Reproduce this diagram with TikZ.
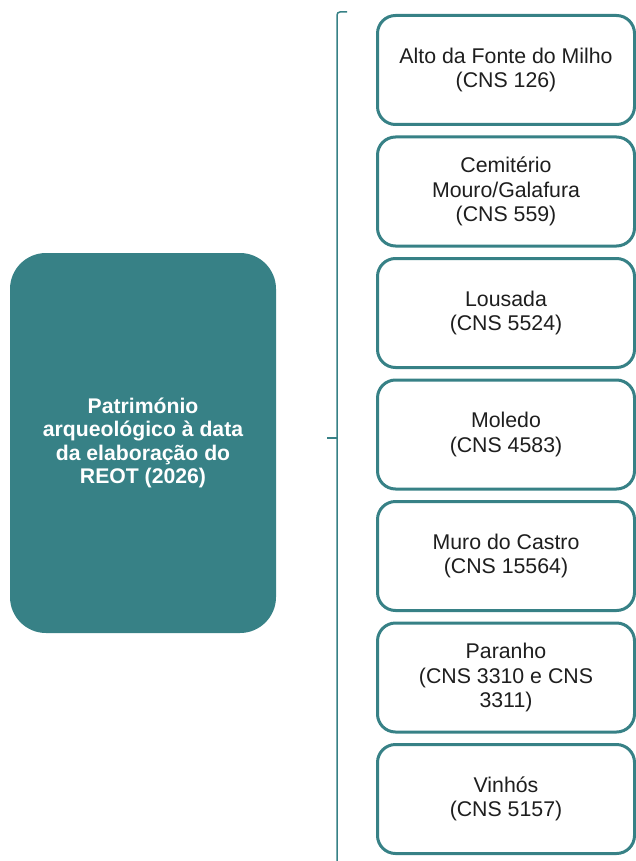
\documentclass[tikz,border=0pt]{standalone}
\usepackage{fontspec}
\setmainfont{Liberation Sans}
\definecolor{reotteal}{RGB}{55,129,134}
\definecolor{reottext}{RGB}{30,30,30}

\begin{document}
\begin{tikzpicture}[x=1pt, y=-1pt,
  sitebox/.style={draw=reotteal, line width=3pt, rounded corners=18pt, fill=white,
    minimum width=257pt, minimum height=109pt, align=center, text=reottext,
    font=\fontsize{21.3}{24.2}\selectfont},
  mainbox/.style={fill=reotteal, rounded corners=36pt, minimum width=266pt,
    minimum height=380pt, align=center, text=white,
    font=\bfseries\fontsize{21.2}{23.6}\selectfont},
  bracket/.style={draw=reotteal, line width=1.5pt, rounded corners=3pt}]
  \useasboundingbox (0,0) rectangle (635,861);

  \node[mainbox] (main) at (143,443) {Património\\arqueológico à data\\da elaboração do\\REOT (2026)};

  % bracket
  \coordinate (btop) at (347,12);
  \coordinate (bcorner) at (337,12);
  \coordinate (bbottom) at (337,875);
  \coordinate (bmid) at (337,438);
  \coordinate (btick) at (327,438);
  \draw[bracket] (btop) -- (bcorner) -- (bbottom);
  \draw[bracket] (btick) -- (bmid);

  \node[sitebox] (s1) at (506,70) {Alto da Fonte do Milho\\(CNS 126)};
  \node[sitebox] (s2) at (506,191.5) {Cemitério\\Mouro/Galafura\\(CNS 559)};
  \node[sitebox] (s3) at (506,313) {Lousada\\(CNS 5524)};
  \node[sitebox] (s4) at (506,434.5) {Moledo\\(CNS 4583)};
  \node[sitebox] (s5) at (506,556) {Muro do Castro\\(CNS 15564)};
  \node[sitebox] (s6) at (506,677.5) {Paranho\\(CNS 3310 e CNS\\3311)};
  \node[sitebox] (s7) at (506,799) {Vinhós\\(CNS 5157)};
\end{tikzpicture}
\end{document}
